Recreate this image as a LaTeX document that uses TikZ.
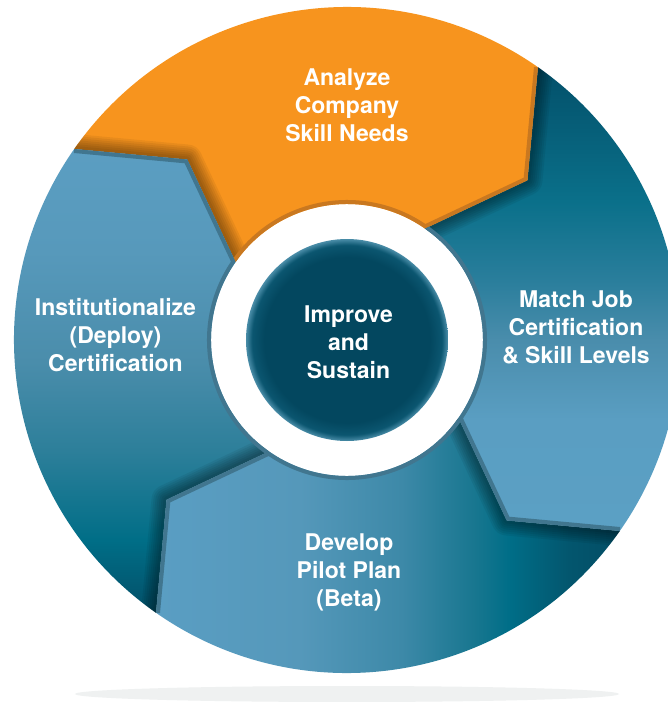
\documentclass[tikz,border=0pt]{standalone}
\usepackage{fontspec}
\setmainfont{TeX Gyre Heros}

% palette
\definecolor{segorange}{HTML}{F7941E}
\definecolor{rimorange}{HTML}{C97820}
\definecolor{rimblue}{HTML}{41768F}
\definecolor{groundgray}{HTML}{EFF1F1}
% left ring segment (dark at the bottom, light at the top)
\definecolor{lA}{HTML}{034F68}
\definecolor{lB}{HTML}{006E87}
\definecolor{lC}{HTML}{2D7F9A}
\definecolor{lD}{HTML}{4A8DAB}
\definecolor{lE}{HTML}{5799BB}
\definecolor{lF}{HTML}{5B9EC2}
% right ring segment (light at the bottom, dark at the top)
\definecolor{rA}{HTML}{5BA0C4}
\definecolor{rB}{HTML}{5A9EC2}
\definecolor{rC}{HTML}{4A8DAC}
\definecolor{rD}{HTML}{2A7E9C}
\definecolor{rE}{HTML}{0A708A}
\definecolor{rF}{HTML}{03506A}
% bottom ring segment (light on the left, dark on the right)
\definecolor{bA}{HTML}{5A9EC3}
\definecolor{bB}{HTML}{5598BA}
\definecolor{bC}{HTML}{3D89A8}
\definecolor{bD}{HTML}{17768F}
\definecolor{bE}{HTML}{006E88}
\definecolor{bF}{HTML}{03566E}
\definecolor{bG}{HTML}{034D65}
% hub
\definecolor{hubA}{HTML}{03475F}
\definecolor{hubB}{HTML}{0B5670}
\definecolor{hubC}{HTML}{4A8DA8}

\pgfdeclareverticalshading{leftshade}{100bp}{color(0bp)=(lA); color(25bp)=(lA);
  color(32.85bp)=(lB); color(42.5bp)=(lC); color(52bp)=(lD); color(64bp)=(lE);
  color(75bp)=(lF); color(100bp)=(lF)}
\pgfdeclareverticalshading{rightshade}{100bp}{color(0bp)=(rA); color(25bp)=(rA);
  color(37bp)=(rB); color(45.5bp)=(rC); color(52bp)=(rD); color(60.5bp)=(rE);
  color(75bp)=(rF); color(100bp)=(rF)}
\pgfdeclarehorizontalshading{bottomshade}{100bp}{color(0bp)=(bA); color(25bp)=(bA);
  color(40.5bp)=(bB); color(51.5bp)=(bC); color(59.5bp)=(bD); color(63bp)=(bE);
  color(69.5bp)=(bF); color(75bp)=(bG); color(100bp)=(bG)}
\pgfdeclareradialshading{hubshade}{\pgfpoint{0bp}{0bp}}{color(0bp)=(hubA);
  color(20.5bp)=(hubA); color(23.5bp)=(hubB); color(25bp)=(hubC); color(50bp)=(hubC)}

\tikzset{
  % one arrow-shaped ring segment; #1 = angle of its tail edge
  ringseg/.style={insert path={({#1}:333pt) arc[start angle=#1, end angle=#1-90, radius=333pt]
      -- ({#1-103.5}:241pt) -- ({#1-90}:136pt)
      arc[start angle=#1-90, end angle=#1, radius=136pt]
      -- ({#1-13.5}:241pt) -- cycle}},
  % the pointed head of a segment
  headedge/.style={insert path={({#1-90}:333pt) -- ({#1-103.5}:241pt) -- ({#1-90}:136pt)}},
  % head plus inner arc, for the bevelled rim
  headrim/.style={insert path={({#1-90}:333pt) -- ({#1-103.5}:241pt) -- ({#1-90}:136pt)
      arc[start angle=#1-90, end angle=#1, radius=136pt]}},
  shadowstroke/.style={black, opacity=0.06, line join=round, line cap=round},
  rimstroke/.style={line width=8pt, line join=miter},
  lbl/.style={text=white, font=\fontsize{23}{28}\selectfont\bfseries, align=center, inner sep=0pt},
}

\begin{document}
\begin{tikzpicture}[x=1pt,y=1pt]
  \useasboundingbox (-347,-362) rectangle (321,340);
  \fill[white] (-347,-362) rectangle (321,340);

  % ground shadow
  \fill[groundgray] (0,-354) ellipse[x radius=272pt, y radius=8pt];

  % the four segments
  \fill[segorange] [ringseg=145];
  \shade[shading=rightshade] [ringseg=55];
  \shade[shading=bottomshade] [ringseg=-35];
  \shade[shading=leftshade] [ringseg=-125];

  % soft shadows cast by each head onto the following segment
  \begin{scope}
    \clip[ringseg=55];
    \foreach \w in {30,26,22,18,14,10,6}
      \draw[shadowstroke, line width=\w pt] [headedge=145];
  \end{scope}
  \begin{scope}
    \clip[ringseg=-35];
    \foreach \w in {30,26,22,18,14,10,6}
      \draw[shadowstroke, line width=\w pt] [headedge=55];
  \end{scope}
  \begin{scope}
    \clip[ringseg=-125];
    \foreach \w in {30,26,22,18,14,10,6}
      \draw[shadowstroke, line width=\w pt] [headedge=-35];
  \end{scope}
  \begin{scope}
    \clip[ringseg=145];
    \foreach \w in {30,26,22,18,14,10,6}
      \draw[shadowstroke, line width=\w pt] [headedge=-125];
  \end{scope}

  % bevelled rims along heads and inner arcs
  \begin{scope}
    \clip[ringseg=145];
    \draw[rimstroke, rimorange] [headrim=145];
  \end{scope}
  \begin{scope}
    \clip[ringseg=55];
    \draw[rimstroke, rimblue] [headrim=55];
  \end{scope}
  \begin{scope}
    \clip[ringseg=-35];
    \draw[rimstroke, rimblue] [headrim=-35];
  \end{scope}
  \begin{scope}
    \clip[ringseg=-125];
    \draw[rimstroke, rimblue] [headrim=-125];
  \end{scope}

  % hub
  \shade[shading=hubshade] (0,0) circle[radius=101pt];

  % labels
  \node[lbl] (analyze) at (0,231.6) {Analyze\strut\\Company\\Skill Needs\strut};
  \node[lbl] (match) at (229,10.6) {Match Job\strut\\Certification\\\& Skill Levels\strut};
  \node[lbl] (develop) at (2,-232.4) {Develop\strut\\Pilot Plan\\(Beta)\strut};
  \node[lbl] (deploy) at (-231.5,2.6) {Institutionalize\strut\\(Deploy)\\Certification\strut};
  \node[lbl] (improve) at (1.5,-4.4) {Improve\strut\\and\\Sustain\strut};
\end{tikzpicture}
\end{document}
